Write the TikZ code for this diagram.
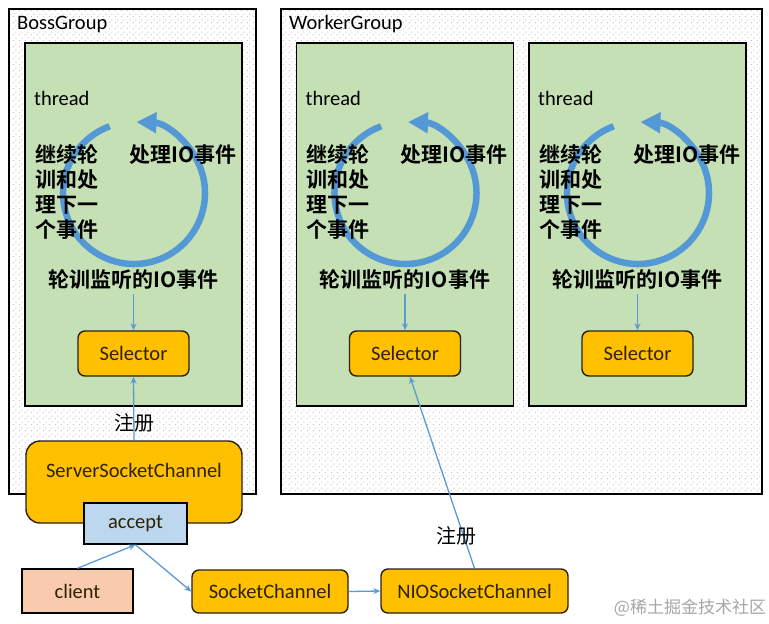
\documentclass[tikz,border=0pt]{standalone}
\usepackage{fontspec}
\setmainfont{Carlito}
\newfontfamily\cjk{Noto Sans CJK SC}
\newfontfamily\cjkb{Noto Sans CJK SC Bold}
\usetikzlibrary{arrows.meta,patterns}
\pgfdeclarepatternformonly{sparsedots}{\pgfpointorigin}{\pgfpoint{6pt}{6pt}}{\pgfpoint{6pt}{6pt}}{%
  \pgfpathcircle{\pgfpoint{1.5pt}{1.5pt}}{0.6pt}%
  \pgfpathcircle{\pgfpoint{4.5pt}{4.5pt}}{0.6pt}%
  \pgfusepath{fill}%
}
\definecolor{tgreen}{HTML}{C5E0B4}
\definecolor{gold}{HTML}{FFC000}
\definecolor{lblue}{HTML}{BDD7EE}
\definecolor{peach}{HTML}{F8CBAD}
\definecolor{abl}{HTML}{5B9BD5}
\definecolor{cbl}{HTML}{5499D6}
\definecolor{edge}{HTML}{2B2012}
\definecolor{gtext}{HTML}{2E2200}
\begin{document}
\begin{tikzpicture}[x=1pt,y=-1pt,
  lat/.style={font=\fontsize{20.5}{24}\selectfont},
  cjkbold/.style={font=\cjkb\fontsize{21}{25}\selectfont, inner sep=0pt},
  cjkreg/.style={font=\cjk\fontsize{20}{23}\selectfont, inner sep=0pt},
  group/.style={draw=black, line width=1.6pt, pattern=sparsedots, pattern color=gray!60, preaction={fill=white}, inner sep=0pt},
  threadbox/.style={draw=black, line width=1.6pt, fill=tgreen, inner sep=0pt, minimum width=217pt, minimum height=363pt},
  gbox/.style={draw=edge, line width=1.4pt, fill=gold, rounded corners=7pt, inner sep=0pt, text=gtext, font=\fontsize{20.5}{24}\selectfont},
  sqbox/.style={draw=black, line width=1.4pt, inner sep=0pt, text=gtext, font=\fontsize{20.5}{24}\selectfont},
  conn/.style={draw=abl, line width=1.3pt, -{Stealth[length=7pt,width=6pt]}},
  cyc/.style={draw=cbl, line width=6.5pt, -{Triangle[length=20pt,width=20pt]}}
]
\useasboundingbox (0,0) rectangle (769,624);
\fill[white] (0,0) rectangle (769,624);

% groups
\node[group, minimum width=247pt, minimum height=485pt] (boss) at (132.5,251.5) {};
\node[group, minimum width=481pt, minimum height=485pt] (worker) at (521.5,251.5) {};
\node[lat, anchor=west, inner sep=0pt] (bosslbl) at (17,24) {BossGroup};
\node[lat, anchor=west, inner sep=0pt] (workerlbl) at (289,24) {WorkerGroup};

% thread boxes
\foreach \i/\dx in {1/0,2/271.5,3/504}{
  \node[threadbox] (th\i) at (133.5+\dx,224.5) {};
  \draw[cyc] (134+\dx,193) ++(250:71) arc[start angle=250, end angle=-88, radius=71];
  \node[lat, anchor=west, inner sep=0pt] (thr\i) at (34+\dx,98) {thread};
  \node[cjkbold, anchor=north west, align=left] (cont\i) at (35+\dx,144) {继续轮\\训和处\\理下一\\个事件};
  \node[cjkbold, anchor=west] (proc\i) at (129+\dx,155) {处理IO事件};
  \node[cjkbold] (poll\i) at (133.5+\dx,280) {轮训监听的IO事件};
  \node[gbox, minimum width=111pt, minimum height=45pt] (sel\i) at (133.5+\dx,353.5) {Selector};
  \draw[conn] ([yshift=-4pt]poll\i.south) -- (sel\i.north);
}

% boss bottom
\node[gbox, rounded corners=14pt, minimum width=216pt, minimum height=82pt] (ssc) at (134,482) {};
\node[lat, text=gtext, inner sep=0pt] (ssct) at (134,470) {ServerSocketChannel};
\node[sqbox, fill=lblue, minimum width=103pt, minimum height=41pt] (acc) at (135.5,523.5) {accept};
\node[sqbox, fill=peach, minimum width=111pt, minimum height=44pt] (client) at (77.5,591) {client};
\node[gbox, minimum width=156pt, minimum height=43pt] (sc) at (270,591.5) {SocketChannel};
\node[gbox, minimum width=187pt, minimum height=44pt] (nio) at (474.5,591) {NIOSocketChannel};

\draw[conn] (ssc.north) -- (sel1.south);
\draw[conn] (client.north) -- (acc.south);
\draw[conn] (acc.south) -- (sc.west);
\draw[conn] (sc.east) -- (nio.west);
\draw[conn] (nio.north) -- ([xshift=5pt]sel2.south);

\node[cjkreg] (reg1) at (134,423) {注册};
\node[cjkreg] (reg2) at (456,536) {注册};

\node[font=\cjk\fontsize{17}{20}\selectfont, text=gray!70, inner sep=0pt] (wm) at (690,608) {@稀土掘金技术社区};
\end{tikzpicture}
\end{document}
